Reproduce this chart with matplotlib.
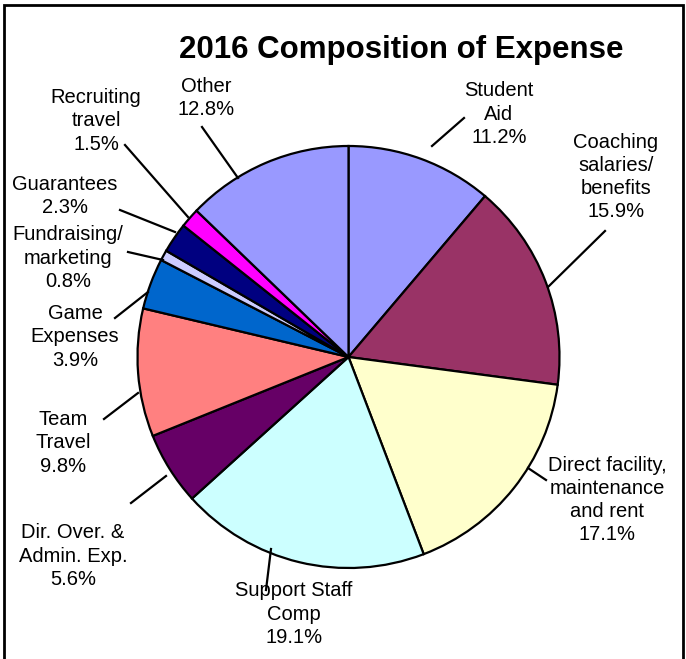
import matplotlib
matplotlib.use("Agg")
import matplotlib.pyplot as plt
from matplotlib.lines import Line2D
from matplotlib.patches import Rectangle

plt.rcParams['font.family'] = ['Liberation Sans', 'DejaVu Sans']

# data, clockwise from 12 o'clock
categories = ["Student\nAid", "Coaching\nsalaries/\nbenefits",
              "Direct facility,\nmaintenance\nand rent", "Support Staff\nComp",
              "Dir. Over. &\nAdmin. Exp.", "Team\nTravel", "Game\nExpenses",
              "Fundraising/\nmarketing", "Guarantees", "Recruiting\ntravel", "Other"]
shares = [11.2, 15.9, 17.1, 19.1, 5.6, 9.8, 3.9, 0.8, 2.3, 1.5, 12.8]
colors = ["#9999FF", "#993366", "#FFFFCC", "#CCFFFF", "#660066", "#FF8080",
          "#0066CC", "#CCCCFF", "#000080", "#FF00FF", "#9999FF"]

# label placement (pixel centre of text block) and leader lines (pixel endpoints)
label_pos = [(499, 114), (616, 177), (607, 500), (294, 614), (73, 556), (63, 443),
             (75, 337), (68, 258), (65, 196), (96, 121), (206, 98)]
leaders = [((432, 146), (464, 118)), ((548, 287), (605, 231)),
           ((528, 468), (546, 480)), ((271, 549), (266, 590)),
           ((166, 476), (131, 503)), ((138, 393), (104, 419)),
           ((148, 292), (115, 318)), ((163, 260), (128, 252)),
           ((175, 232), (120, 210)), ((188, 217), (125, 145)),
           ((238, 178), (202, 127))]

W, H = 686, 659
cx, cy, r = 348.5, 357, 211


def px(x, y):
    return x / W, 1 - y / H


fig = plt.figure(figsize=(W / 100, H / 100), dpi=100)
ax = fig.add_axes([(cx - r) / W, (H - cy - r) / H, 2 * r / W, 2 * r / H])
ax.pie(shares, colors=colors, startangle=90, counterclock=False,
       wedgeprops=dict(edgecolor="black", linewidth=1.6))
ax.set_xlim(-1, 1)
ax.set_ylim(-1, 1)
ax.set_aspect("auto")
ax.axis("off")

fig.text(*px(401, 50), "2016 Composition of Expense", ha="center", va="center",
         fontsize=22.5, fontweight="bold")

for name, val, (lx, ly) in zip(categories, shares, label_pos):
    fig.text(*px(lx, ly), f"{name}\n{val:.1f}%", ha="center", va="center",
             fontsize=14.5, linespacing=1.27)

for (a, b) in leaders:
    (x0, y0), (x1, y1) = px(*a), px(*b)
    fig.add_artist(Line2D([x0, x1], [y0, y1], color="black", lw=1.6,
                          transform=fig.transFigure))

fig.add_artist(Rectangle(px(4, 700), 679 / W, 695 / H, fill=False,
                         edgecolor="black", lw=2, transform=fig.transFigure))

fig.savefig("out.png", dpi=100)
